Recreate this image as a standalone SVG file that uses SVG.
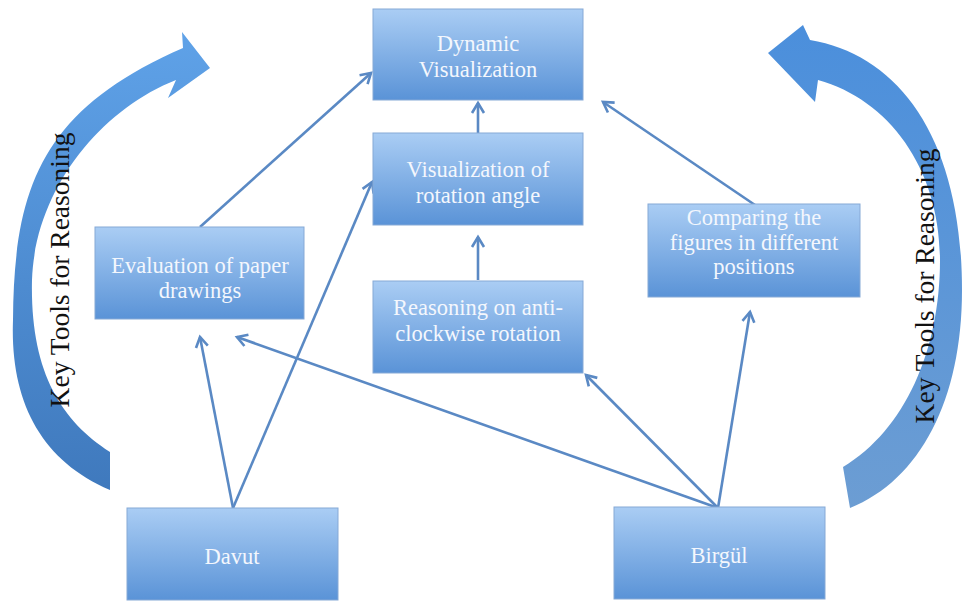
<svg xmlns="http://www.w3.org/2000/svg" width="962" height="601" viewBox="0 0 962 601">
<defs>
<linearGradient id="boxg" x1="0" y1="0" x2="0" y2="1">
<stop offset="0" stop-color="#aacdf4"/>
<stop offset="1" stop-color="#5a93d7"/>
</linearGradient>
<linearGradient id="leftg" x1="0" y1="0" x2="0" y2="1">
<stop offset="0" stop-color="#5fa2e8"/>
<stop offset="1" stop-color="#3f79bd"/>
</linearGradient>
<linearGradient id="rightg" x1="0" y1="0" x2="0" y2="1">
<stop offset="0" stop-color="#4b8fdc"/>
<stop offset="1" stop-color="#6c9dd3"/>
</linearGradient>
<marker id="arr" markerUnits="userSpaceOnUse" markerWidth="16" markerHeight="16" viewBox="-12 -8 14 16" refX="0" refY="0" orient="auto">
<path d="M -10,-6 L 0,0 L -10,6" fill="none" stroke="#5a89c4" stroke-width="2.6" stroke-linejoin="miter"/>
</marker>
</defs>
<style>
.box{fill:url(#boxg);stroke:#86a9d6;stroke-width:1}
.bt{font-family:"Liberation Serif","Times New Roman",serif;font-size:22.5px;fill:#f4f7fd;text-anchor:middle}
.lab{font-family:"Liberation Serif","Times New Roman",serif;font-size:27.5px;fill:#111;text-anchor:middle}
.con{fill:none;stroke:#5a89c4;stroke-width:2.6;marker-end:url(#arr)}
</style>

<g id="left-arrow">
<path d="M 110,490 C 40,460 10,400 13,320 C 14,190 40,110 183,48 L 182,32 L 210,68 L 168,98 L 176,80 C 100,110 35,190 32,280 C 30,370 60,420 110,452 Z" fill="url(#leftg)"/>
<text class="lab" transform="translate(69,270) rotate(-90)">Key Tools for Reasoning</text>
</g>

<g id="right-arrow">
<path d="M 810,40 C 900,55 962,140 962,290 C 962,400 920,480 850,508 L 843,467 C 905,430 940,350 940,260 C 940,170 890,100 818,80 L 815,102 L 768,53 L 803,25 Z" fill="url(#rightg)"/>
<text class="lab" transform="translate(934,286) rotate(-90)">Key Tools for Reasoning</text>
</g>

<g id="connectors">
<line class="con" x1="200" y1="227" x2="371" y2="73"/>
<line class="con" x1="478" y1="133" x2="478" y2="103"/>
<line class="con" x1="478" y1="280" x2="478" y2="237"/>
<line class="con" x1="755" y1="205" x2="603" y2="102"/>
<line class="con" x1="233" y1="508" x2="200" y2="337"/>
<line class="con" x1="233" y1="508" x2="372" y2="182"/>
<line class="con" x1="718" y1="508" x2="237" y2="337"/>
<line class="con" x1="718" y1="508" x2="586" y2="375"/>
<line class="con" x1="718" y1="508" x2="750" y2="312"/>
</g>

<g id="dynamic">
<rect class="box" x="373" y="9" width="210" height="91"/>
<text class="bt" x="478" y="51">Dynamic</text>
<text class="bt" x="478" y="77">Visualization</text>
</g>

<g id="rotation-angle">
<rect class="box" x="373" y="133" width="210" height="92"/>
<text class="bt" x="478" y="177">Visualization of</text>
<text class="bt" x="478" y="203">rotation angle</text>
</g>

<g id="anticlockwise">
<rect class="box" x="373" y="281" width="210" height="92"/>
<text class="bt" x="478" y="315">Reasoning on anti-</text>
<text class="bt" x="478" y="341">clockwise rotation</text>
</g>

<g id="evaluation">
<rect class="box" x="95" y="227" width="209" height="92"/>
<text class="bt" x="200" y="273">Evaluation of paper</text>
<text class="bt" x="200" y="298">drawings</text>
</g>

<g id="comparing">
<rect class="box" x="648" y="204" width="212" height="93"/>
<text class="bt" x="754" y="225">Comparing the</text>
<text class="bt" x="754" y="250">figures in different</text>
<text class="bt" x="754" y="274">positions</text>
</g>

<g id="davut">
<rect class="box" x="127" y="508" width="211" height="92"/>
<text class="bt" x="232" y="564">Davut</text>
</g>

<g id="birgul">
<rect class="box" x="614" y="507" width="211" height="92"/>
<text class="bt" x="719" y="563">Birgül</text>
</g>
</svg>
